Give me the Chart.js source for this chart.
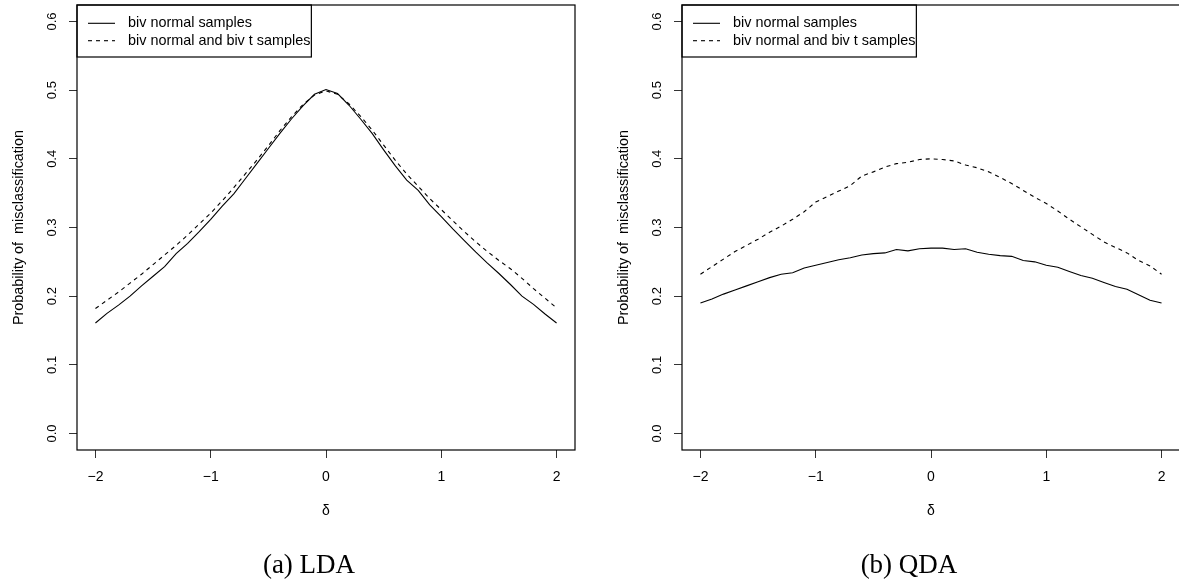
<!DOCTYPE html>
<html>
<head>
<meta charset="utf-8">
<script src="https://cdn.jsdelivr.net/npm/chart.js@4.4.1/dist/chart.umd.min.js"></script>
<style>
    html, body { margin: 0; padding: 0; background: #fff; width: 1179px; height: 581px; overflow: hidden; }
    .panel { position: absolute; top: 0; }
    #panelA { left: 0; }
    #panelB { left: 605px; }
    .caption {
        position: absolute; top: 549px; font-family: 'Liberation Serif', serif; font-size: 27px;
        line-height: 30px; color: #000; white-space: nowrap; transform: translateX(-50%);
    }
</style>
</head>
<body>
<canvas id="panelA" class="panel" width="600" height="581"></canvas>
<canvas id="panelB" class="panel" width="600" height="581"></canvas>
<div class="caption" style="left:309px">(a) LDA</div>
<div class="caption" style="left:909px">(b) QDA</div>

<script>
// delta grid (x values)
const deltas = [-2.0, -1.9, -1.8, -1.7, -1.6, -1.5, -1.4, -1.3, -1.2, -1.1, -1.0,
    -0.9, -0.8, -0.7, -0.6, -0.5, -0.4, -0.3, -0.2, -0.1, 0.0,
    0.1, 0.2, 0.3, 0.4, 0.5, 0.6, 0.7, 0.8, 0.9, 1.0,
    1.1, 1.2, 1.3, 1.4, 1.5, 1.6, 1.7, 1.8, 1.9, 2.0];

// (a) LDA
const ldaNormal = [0.161, 0.175, 0.187, 0.200, 0.215, 0.229, 0.243, 0.262, 0.277, 0.294, 0.312,
    0.331, 0.349, 0.371, 0.393, 0.415, 0.437, 0.458, 0.477, 0.494, 0.501,
    0.495, 0.478, 0.458, 0.437, 0.413, 0.390, 0.369, 0.354, 0.333, 0.316,
    0.298, 0.281, 0.264, 0.248, 0.233, 0.217, 0.200, 0.188, 0.174, 0.161];
const ldaMixed = [0.182, 0.194, 0.206, 0.219, 0.232, 0.246, 0.260, 0.274, 0.289, 0.305, 0.321,
    0.339, 0.358, 0.378, 0.398, 0.419, 0.441, 0.461, 0.479, 0.493, 0.499,
    0.494, 0.480, 0.462, 0.442, 0.420, 0.398, 0.378, 0.360, 0.342, 0.326,
    0.310, 0.294, 0.279, 0.265, 0.252, 0.240, 0.226, 0.211, 0.197, 0.183];

// (b) QDA
const qdaNormal = [0.190, 0.196, 0.203, 0.209, 0.215, 0.221, 0.227, 0.232, 0.234, 0.241, 0.245,
    0.249, 0.253, 0.256, 0.260, 0.262, 0.263, 0.268, 0.266, 0.269, 0.270,
    0.270, 0.268, 0.269, 0.264, 0.261, 0.259, 0.258, 0.252, 0.250, 0.245,
    0.242, 0.236, 0.230, 0.226, 0.220, 0.214, 0.210, 0.202, 0.194, 0.190];
const qdaMixed = [0.232, 0.243, 0.254, 0.265, 0.274, 0.283, 0.293, 0.302, 0.312, 0.323, 0.337,
    0.345, 0.353, 0.361, 0.375, 0.381, 0.388, 0.393, 0.395, 0.399, 0.400,
    0.399, 0.397, 0.391, 0.387, 0.381, 0.373, 0.364, 0.354, 0.344, 0.335,
    0.324, 0.312, 0.301, 0.290, 0.279, 0.271, 0.263, 0.252, 0.244, 0.232];

const seriesLabels = ['biv normal samples', 'biv normal and biv t samples'];
const xTicks = [-2, -1, 0, 1, 2];
const yTicks = [0.0, 0.1, 0.2, 0.3, 0.4, 0.5, 0.6];
const xRange = [-2.16, 2.16];
const yRange = [-0.024, 0.624];
const xTitle = 'δ';
const yTitle = 'Probability of  misclassification';

const SANS = "'Liberation Sans', Arial, sans-serif";

// box around the plot region
const frame = {
    id: 'frame',
    afterDraw(chart) {
        const { ctx, chartArea: a } = chart;
        ctx.save();
        ctx.strokeStyle = '#000';
        ctx.lineWidth = 1.2;
        ctx.strokeRect(a.left, a.top, a.right - a.left, a.bottom - a.top);
        ctx.restore();
    }
};

// R style legend in the top left corner
const boxLegend = {
    id: 'boxLegend',
    afterDraw(chart) {
        const { ctx, chartArea: a } = chart;
        const sets = chart.data.datasets;
        ctx.save();
        ctx.font = '14.4px ' + SANS;
        const textX = a.left + 51;
        const widest = Math.max(...sets.map(d => ctx.measureText(d.label).width));
        ctx.strokeStyle = '#000';
        ctx.lineWidth = 1.2;
        ctx.strokeRect(a.left, a.top, textX + widest + 1 - a.left, 52);
        sets.forEach((d, i) => {
            const y = a.top + 18.3 + i * 17.4;
            ctx.beginPath();
            ctx.setLineDash(d.borderDash || []);
            ctx.lineWidth = 1.1;
            ctx.moveTo(a.left + 11, y);
            ctx.lineTo(a.left + 38, y);
            ctx.stroke();
            ctx.setLineDash([]);
            ctx.fillStyle = '#000';
            ctx.textBaseline = 'middle';
            ctx.fillText(d.label, textX, y);
        });
        ctx.restore();
    }
};

function makePanel(id, solid, dashed) {
    const ctx = document.getElementById(id).getContext('2d');
    new Chart(ctx, {
        type: 'line',
        data: {
            datasets: [{
                label: seriesLabels[0],
                data: deltas.map((d, i) => ({ x: d, y: solid[i] })),
                borderColor: '#000',
                borderWidth: 1.1,
                pointRadius: 0,
                tension: 0
            }, {
                label: seriesLabels[1],
                data: deltas.map((d, i) => ({ x: d, y: dashed[i] })),
                borderColor: '#000',
                borderWidth: 1.1,
                borderDash: [4, 4],
                pointRadius: 0,
                tension: 0
            }]
        },
        options: {
            responsive: false,
            animation: false,
            layout: { padding: { left: 0, right: 25, top: 5, bottom: 0 } },
            plugins: { legend: { display: false }, tooltip: { enabled: false } },
            scales: {
                x: {
                    type: 'linear',
                    min: xRange[0],
                    max: xRange[1],
                    afterBuildTicks: s => { s.ticks = xTicks.map(v => ({ value: v })); },
                    afterFit: s => { s.height = 131; s.paddingLeft = 0; s.paddingRight = 0; },
                    border: { display: false },
                    grid: { drawOnChartArea: false, tickLength: 8, color: '#333', lineWidth: 1 },
                    ticks: {
                        color: '#000', padding: 11, maxRotation: 0, autoSkip: false,
                        font: { family: SANS, size: 14 },
                        callback: v => String(v).replace('-', '\u2212')
                    },
                    title: {
                        display: true, text: xTitle, color: '#000',
                        font: { family: SANS, size: 14 },
                        padding: { top: 0, bottom: 61 }
                    }
                },
                y: {
                    type: 'linear',
                    min: yRange[0],
                    max: yRange[1],
                    afterBuildTicks: s => { s.ticks = yTicks.map(v => ({ value: v })); },
                    afterFit: s => { s.width = 77; s.paddingTop = 0; s.paddingBottom = 0; },
                    border: { display: false },
                    grid: { drawOnChartArea: false, tickLength: 8, color: '#333', lineWidth: 1 },
                    ticks: {
                        color: '#000', padding: 8, minRotation: 90, maxRotation: 90,
                        crossAlign: 'center', autoSkip: false,
                        font: { family: SANS, size: 13 },
                        callback: v => v.toFixed(1)
                    },
                    title: {
                        display: true, text: yTitle, color: '#000',
                        font: { family: SANS, size: 14.4 },
                        padding: { top: 10, bottom: 0 }
                    }
                }
            }
        },
        plugins: [frame, boxLegend]
    });
}

makePanel('panelA', ldaNormal, ldaMixed);
makePanel('panelB', qdaNormal, qdaMixed);
</script>
</body>
</html>
